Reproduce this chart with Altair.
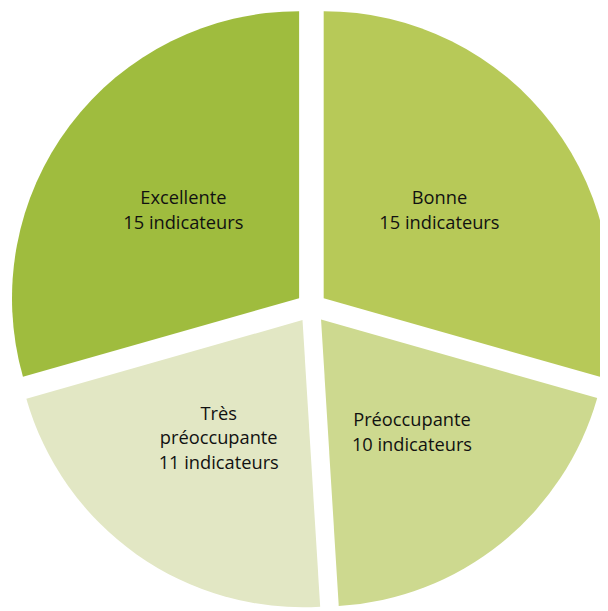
import altair as alt
import pandas as pd

categories = ["Bonne", "Préoccupante", "Très préoccupante", "Excellente"]
label_lines = ["Bonne", "Préoccupante", "Très\npréoccupante", "Excellente"]
values = [15, 10, 11, 15]
colors = ["#B7C958", "#CDD98F", "#E2E7C4", "#9FBC3E"]

df = pd.DataFrame({
    "cat": categories,
    "value": values,
    "order": list(range(len(categories))),
    "label": [f"{l}\n{v} indicateurs" for l, v in zip(label_lines, values)],
    "nlines": [l.count("\n") + 2 for l in label_lines],
})
total = sum(values)

CX, CY = 307.5, 299.5   # pie centre in chart pixels
R = 291                 # slice radius
EXPLODE = 15.6          # radial explosion of every slice
LABEL_R = 147           # label distance from the slice's own centre
LINE_H = 25

base = alt.Chart(df).transform_window(
    cum="sum(value)", sort=[alt.SortField("order")], frame=[None, 0]
).transform_calculate(
    start="datum.cum - datum.value",
    ang=f"(datum.cum - datum.value / 2) / {total} * 2 * PI",
).transform_calculate(
    sx=f"{CX} + {EXPLODE} * sin(datum.ang)",
    sy=f"{CY} - {EXPLODE} * cos(datum.ang)",
).transform_calculate(
    tx=f"datum.sx + {LABEL_R} * sin(datum.ang)",
    ty=f"datum.sy - {LABEL_R} * cos(datum.ang) - (datum.nlines - 1) * {LINE_H} / 2",
)

theta_scale = alt.Scale(domain=[0, total], range=[0, 6.283185307179586])
color_scale = alt.Scale(domain=categories, range=colors)

arcs = base.mark_arc(radius=R, stroke=None).encode(
    theta=alt.Theta("start:Q", scale=theta_scale),
    theta2="cum:Q",
    x=alt.X("sx:Q", scale=None, axis=None),
    y=alt.Y("sy:Q", scale=None, axis=None),
    color=alt.Color("cat:N", scale=color_scale, legend=None),
)

texts = base.mark_text(
    lineBreak="\n", font="Open Sans", fontSize=18.5, color="#111111",
    align="center", baseline="middle", lineHeight=LINE_H,
).encode(
    x=alt.X("tx:Q", scale=None, axis=None),
    y=alt.Y("ty:Q", scale=None, axis=None),
    text="label:N",
)

chart = alt.layer(arcs, texts).properties(
    width=600, height=603, padding=0, autosize=alt.AutoSizeParams(type="none")
).configure_view(stroke=None)

chart.save("out.html", embed_options={"renderer": "svg", "actions": False})
